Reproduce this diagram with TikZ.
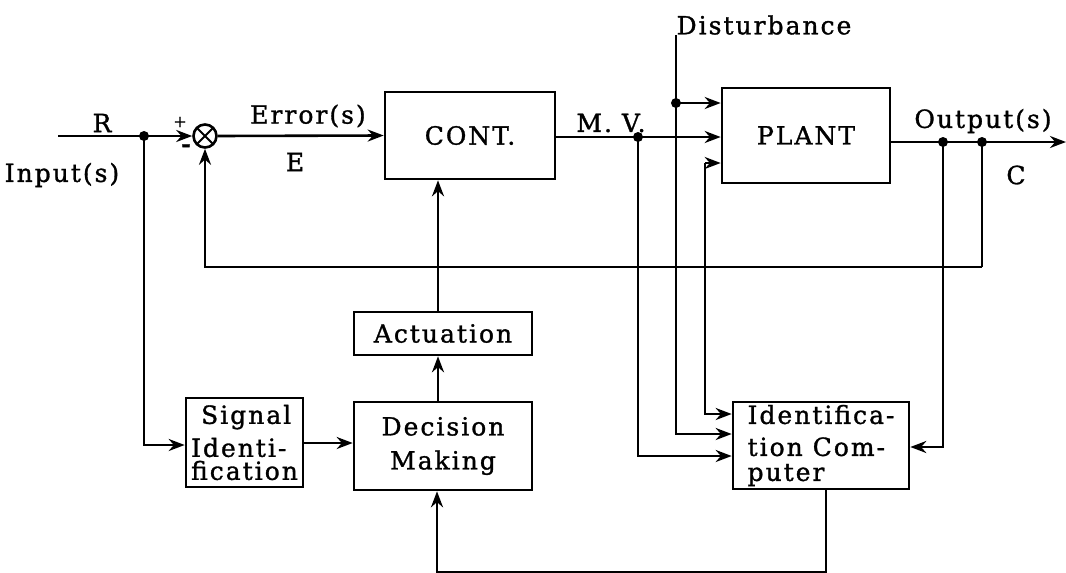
\documentclass[tikz,border=0pt]{standalone}
\usepackage{fontspec}
\setmainfont{DejaVu Serif}[LetterSpace=8, FakeBold=1.2]
\usetikzlibrary{arrows.meta}
\tikzset{
  txt/.style={font=\fontsize{25}{29}\selectfont, inner sep=0pt},
  blk/.style={draw, line width=2.6pt, rectangle, inner sep=0pt, font=\fontsize{25}{29}\selectfont, align=center},
  ln/.style={line width=2.6pt},
  arr/.style={ln, -{Stealth[length=16pt,width=12pt]}},
  dot/.style={circle, fill, inner sep=0pt, minimum size=10pt},
}
\begin{document}
\begin{tikzpicture}[x=1pt,y=-1pt]
\useasboundingbox (0,0) rectangle (1066,573);
% boxes
\node[blk, minimum width=170pt, minimum height=87pt] (cont) at (470,135.5) {CONT.};
\node[blk, minimum width=168pt, minimum height=95pt] (plant) at (806,135.5) {PLANT};
\node[blk, minimum width=178pt, minimum height=43pt] (act) at (443,333.5) {Actuation};
\node[blk, minimum width=178pt, minimum height=88pt] (dec) at (443,446) {Decision\\[5pt]Making};
\node[blk, minimum width=117pt, minimum height=89pt, align=left] (sig) at (244.5,442.5) {\hspace*{10pt}Signal\\[4pt]Identi-\\[-6pt]fication};
\node[blk, minimum width=176pt, minimum height=87pt, align=left] (idc) at (821,445.5) {Identifica-\\[3pt]tion Com-\\[-4pt]puter};
% summing junction
\node[draw, circle, line width=2.6pt, minimum size=23pt, inner sep=0pt,
  path picture={\draw[line width=2pt] (path picture bounding box.north west) -- (path picture bounding box.south east)
     (path picture bounding box.north east) -- (path picture bounding box.south west);}] (sum) at (205,136) {};
% junction dots
\node[dot] (jr) at (144,136) {};
\node[dot] (jmv) at (638,137) {};
\node[dot] (jd) at (676,103) {};
\node[dot] (jo1) at (943,142) {};
\node[dot] (jo2) at (982,142) {};
\coordinate (inStart) at (58,136);
\coordinate (dTop) at (676,35);
\coordinate (outEnd) at (1066,142);
\coordinate (pv) at (705,163);
\coordinate (fbCorner) at (982,267);
\coordinate (bot) at (826,572);
% labels
\node[txt] (lR) at (102,123) {R};
\node[txt] (lIn) at (62,175) {Input(s)};
\node[font=\fontsize{16}{16}\selectfont, inner sep=0pt] (lp) at (180,122) {+};
\node[font=\fontsize{22}{22}\bfseries\selectfont, inner sep=0pt] (lm) at (186,148) {-};
\node[txt] (lErr) at (308,116) {Error(s)};
\node[txt] (lE) at (295,162) {E};
\node[txt] (lMV) at (611,123) {M. V.};
\node[txt] (lDist) at (764,25) {Disturbance};
\node[txt] (lOut) at (983,121) {Output(s)};
\node[txt] (lC) at (1016,175) {C};
% connectors
\draw[arr] (inStart) -- (sum.west);
\draw[arr] (sum.east) -- (cont.west);
\draw[arr] (cont.east |- jmv) -- (plant.west |- jmv);
\draw[ln] (dTop) -- (jd.center);
\draw[arr] (jd.center) -- (plant.west |- jd);
\draw[arr] (jd.center) |- (idc.west |- 0,434);
\draw[arr] (jmv.center) |- (idc.west |- 0,456);
\draw[arr] (pv -| 705,0) |- (idc.west |- 0,414);
\draw[arr] (pv) -- (plant.west |- pv);
\draw[arr] (plant.east |- outEnd) -- (outEnd);
\draw[ln] (jo2.center) -- (fbCorner);
\draw[arr] (fbCorner) -| (sum.south);
\draw[arr] (jo1.center) |- (idc.east |- 0,447);
\draw[arr] (jr.center) |- (sig.west |- 0,445);
\draw[arr] (sig.east |- 0,443) -- (dec.west |- 0,443);
\draw[arr] (dec.north -| 438,0) -- (act.south -| 438,0);
\draw[arr] (act.north -| 438,0) -- (cont.south -| 438,0);
\draw[arr] (idc.south -| bot) -- (bot) -| (dec.south -| 437,0);
\end{tikzpicture}
\end{document}
